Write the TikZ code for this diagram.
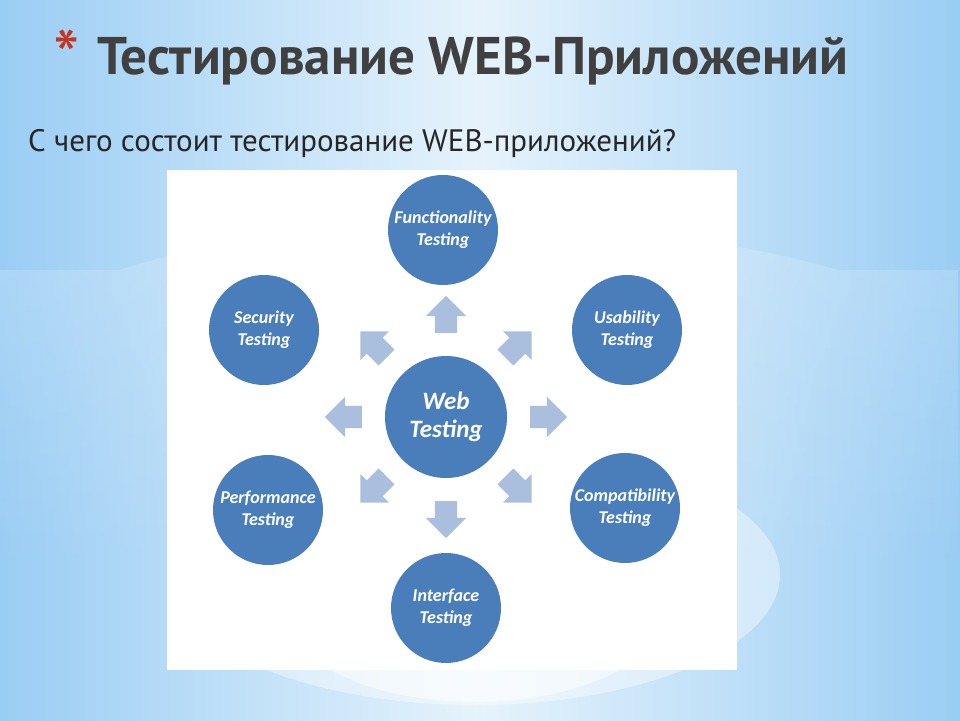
\documentclass[tikz,border=0pt]{standalone}
\usepackage{fontspec}
\setmainfont{PT Sans}
\newfontfamily\circfont{Carlito}
\usetikzlibrary{shapes.arrows,fadings}

\definecolor{circblue}{HTML}{4A7EBB}
\definecolor{arrblue}{HTML}{A9BFDD}
\definecolor{titlegray}{HTML}{404040}
\definecolor{starred}{HTML}{C8321E}
\definecolor{bgedge}{HTML}{9ACDF4}
\definecolor{bgmid}{HTML}{E6F3FC}

\tikzset{
  testing/.style={circle, fill=circblue, text=white, minimum size=110pt, inner sep=0pt, align=center,
    font=\circfont\bfseries\itshape\fontsize{18}{22}\selectfont},
  blockarrow/.style={single arrow, fill=arrblue, minimum height=37pt, minimum width=40pt,
    single arrow head extend=9pt, inner xsep=0pt, inner ysep=11pt}
}

\begin{document}
\begin{tikzpicture}[x=1pt,y=1pt]
% slide background
\shade[left color=bgedge, right color=bgedge, middle color=bgmid] (0,0) rectangle (960,720);
\fill[white, opacity=0.2, path fading=south] (0,450) -- (120,450) .. controls (300,510) and (640,510) .. (840,450) -- (960,450) -- (960,150) -- (0,150) -- cycle;
\fill[white, opacity=0.4] (475,145) ellipse (305 and 130);
\fill[white, opacity=0.5] (475,110) ellipse (190 and 92);
\fill[white] (167,50) rectangle (737,550);

% heading
\node[anchor=base west, inner sep=0pt, text=starred, font=\fontsize{75}{80}\selectfont] (star) at (53,636) {*};
\node[anchor=base west, inner sep=0pt, text=titlegray, font=\bfseries\fontsize{53}{60}\selectfont] (title) at (97,645) {Тестирование WEB-Приложений};
\node[anchor=base west, inner sep=0pt, text=black!85, font=\fontsize{31}{36}\selectfont] (question) at (28,568) {С чего состоит тестирование WEB-приложений?};

% circles
\node[testing, minimum size=122pt, font=\circfont\bfseries\itshape\fontsize{25}{28}\selectfont] (web) at (446,303) {Web\\Testing};
\node[testing] (func) at (443,490) {Functionality\\Testing};
\node[testing] (secur) at (264,390) {Security\\Testing};
\node[testing] (usab) at (627,390) {Usability\\Testing};
\node[testing] (perf) at (268,210) {Performance\\Testing};
\node[testing] (compat) at (625,212) {Compatibility\\Testing};
\node[testing] (iface) at (446,112) {Interface\\Testing};

% arrows round the centre
\foreach \a in {0,45,...,315}
  \path (web) ++(\a:97) node[blockarrow, rotate=\a] (arr\a) {};
\end{tikzpicture}
\end{document}
